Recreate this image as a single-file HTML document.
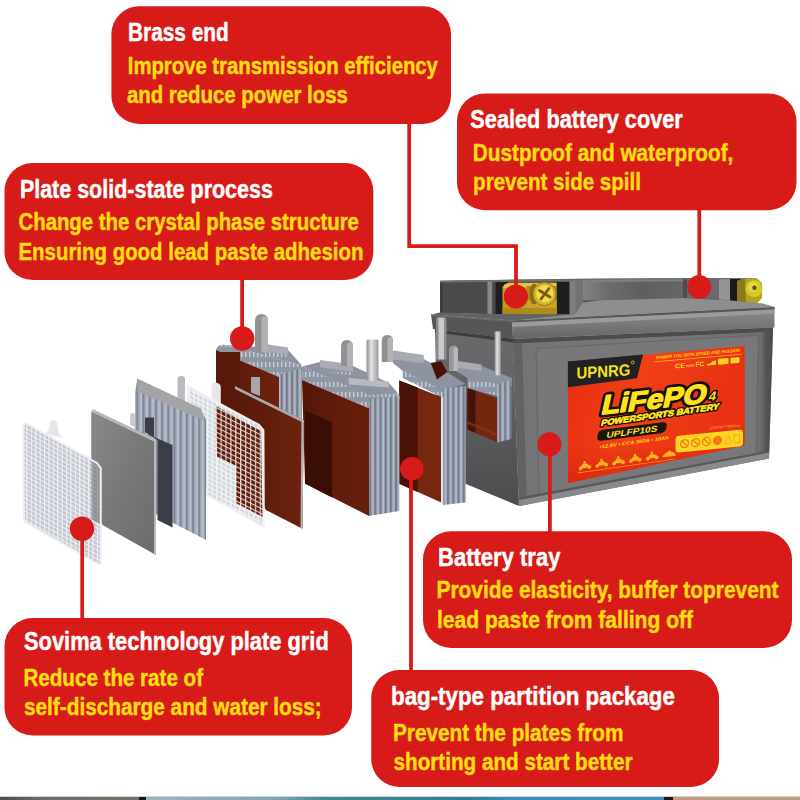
<!DOCTYPE html>
<html>
<head>
<meta charset="utf-8">
<title>Battery structure</title>
<style>
html,body{margin:0;padding:0;background:#fff;}
body{width:800px;height:800px;overflow:hidden;font-family:"Liberation Sans",sans-serif;}
svg{display:block;}
.t{font-family:"Liberation Sans",sans-serif;font-weight:bold;}
.w{fill:#ffffff;stroke:#ffffff;stroke-width:0.45px;}
.y{fill:#ffdd12;stroke:#ffdd12;stroke-width:0.45px;}
</style>
</head>
<body>
<svg width="800" height="800" viewBox="0 0 800 800">
<defs>
</defs>
<rect x="0" y="0" width="800" height="800" fill="#ffffff"/>
<!--BOTTOMSTRIP-->
<g id="strip">
<defs><linearGradient id="gStrip" x1="0" y1="0" x2="1" y2="0">
<stop offset="0" stop-color="#9fb2bd"/><stop offset="0.25" stop-color="#7fa6b4"/><stop offset="0.35" stop-color="#3b8a98"/><stop offset="0.62" stop-color="#2e7f96"/><stop offset="0.7" stop-color="#3a8cc4"/><stop offset="1" stop-color="#3f8fc6"/>
</linearGradient>
<linearGradient id="gStripL" x1="0" y1="0" x2="1" y2="0"><stop offset="0" stop-color="#4e4c48"/><stop offset="0.3" stop-color="#6f6a63"/><stop offset="1" stop-color="#77716a"/></linearGradient>
</defs>
<rect x="0" y="796.4" width="800" height="0.6" fill="#b9b6b2"/>
<rect x="0" y="797" width="140" height="3" fill="url(#gStripL)"/>
<rect x="139" y="797" width="8" height="3" fill="#15181c"/>
<rect x="146" y="797" width="520" height="3" fill="url(#gStrip)"/>
<rect x="664" y="797" width="10" height="3" fill="#1c1a1a"/>
<rect x="673" y="797" width="127" height="3" fill="#c39a7c"/>
</g>
<!--BATTERY-->
<g id="battery">
<defs>
<linearGradient id="gFront" x1="0" y1="0" x2="1" y2="0">
<stop offset="0" stop-color="#626264"/><stop offset="0.04" stop-color="#747476"/><stop offset="0.5" stop-color="#79797b"/><stop offset="1" stop-color="#6e6e70"/>
</linearGradient>
<linearGradient id="gLidF" x1="0" y1="0" x2="0" y2="1">
<stop offset="0" stop-color="#8c8c8e"/><stop offset="0.5" stop-color="#7a7a7c"/><stop offset="1" stop-color="#666668"/>
</linearGradient>
<linearGradient id="gLabel" x1="0" y1="0" x2="1" y2="0.3">
<stop offset="0" stop-color="#e82a10"/><stop offset="0.45" stop-color="#f04016"/><stop offset="1" stop-color="#e83012"/>
</linearGradient>
<linearGradient id="gBrass" x1="0" y1="0" x2="0" y2="1">
<stop offset="0" stop-color="#d2b44a"/><stop offset="0.2" stop-color="#b7982c"/><stop offset="1" stop-color="#a98a22"/>
</linearGradient>
<linearGradient id="gPanel" x1="0" y1="0" x2="0" y2="1">
<stop offset="0" stop-color="#9a9a9c"/><stop offset="1" stop-color="#828284"/>
</linearGradient>
</defs>
<!-- upper cover -->
<polygon points="440,281 520,279.6 600,278.6 730,278 757,278.6 757,304 600,304 575,315 440,313" fill="#525254"/>
<polygon points="440,281 488,280.2 488,314 440,313" fill="#4a4a4c"/>
<polygon points="440,281 443,281 443,313 440,313" fill="#3c3c3e"/>
<polygon points="440,280.4 740,278 740,279.6 440,282.4" fill="#707072"/>
<!-- left pocket -->
<rect x="488" y="282" width="87.500" height="33" fill="#1e1e20"/>
<rect x="487.500" y="281.500" width="5" height="33.500" fill="#88888a"/>
<rect x="492.500" y="282" width="3" height="33" fill="#4a4a4c"/>
<rect x="569.500" y="281" width="6.500" height="34" fill="#7e7e80"/>
<!-- brass block -->
<polygon points="504.500,284.500 509,282.750 556.500,282.750 556.500,314.800 502.500,314.800 502.500,287" fill="#c29c22"/>
<polygon points="504.500,284.500 509,282.750 556.500,282.750 556.500,286 503,288" fill="#e2c444"/>
<rect x="527" y="286" width="29.500" height="28.800" fill="#b08a1a"/>
<rect x="527" y="300" width="29.500" height="14.800" fill="#c8a428"/>
<rect x="502.500" y="308" width="54" height="6.800" fill="#a88418" opacity="0.8"/>
<ellipse cx="534" cy="294" rx="4.500" ry="10.500" fill="#8e6e12"/>
<circle cx="544.500" cy="294" r="11.600" fill="#d4b232" stroke="#94741a" stroke-width="1"/>
<circle cx="544.800" cy="293.600" r="8.600" fill="#f2dc4c"/>
<path d="M539.500,290.500 L550,297 M549,288.500 L541,299" stroke="#7a5c10" stroke-width="2.800" fill="none" stroke-linecap="round"/>
<!-- right part of cover -->
<polygon points="575.5,280 583,280 583,303 575.5,314.5" fill="#727274"/>
<linearGradient id="gCP" x1="0" y1="0" x2="1" y2="0"><stop offset="0" stop-color="#828284"/><stop offset="0.25" stop-color="#6c6c6e"/><stop offset="0.6" stop-color="#5f5f61"/><stop offset="1" stop-color="#666668"/></linearGradient>
<polygon points="583,280.8 683,279.6 683,298 583,300.5" fill="url(#gCP)"/>
<polygon points="583,280.3 683,279.2 683,281.2 583,282.3" fill="#808082"/>
<polygon points="683,279.6 722,279.2 722,299.5 683,298" fill="#6a6a6c"/>
<polygon points="683,279.6 687,279.6 687,298.2 683,298" fill="#4e4e50"/>
<polygon points="719,279.2 731,279 731,300.5 719,299.5" fill="#949496"/>
<rect x="730" y="279" width="10" height="24.800" fill="#1a1a1a"/>
<polygon points="737,281 745,278.500 757,278.500 762,283 762,298 757,303.600 737,303.600" fill="#b2a41c"/>
<polygon points="737,281 745,278.500 746,303.600 737,303.600" fill="#8a7c14"/>
<circle cx="754" cy="288.500" r="8.600" fill="#d4c82e"/>
<circle cx="753" cy="287" r="5" fill="#e2d840"/>
<circle cx="754.500" cy="287.800" r="2.200" fill="#5a5008"/>
<!-- lid top band -->
<polygon points="575,314.2 583,302.5 600,300.3 683,298 731,300.5 763,303.5 774.5,307 512.5,320.5 505,316.500" fill="#8e8e90"/>
<polygon points="431,314.5 440,312.600 488,314 575,314.2 512.5,320.5" fill="#636365"/>
<!-- lid side -->
<polygon points="431,314.5 512.5,320.5 513,339 433,329" fill="#565658"/>
<polygon points="431,314.5 512.5,320.5 512.5,322 431,316" fill="#6a6a6c"/>
<!-- lid front -->
<polygon points="512.5,320.5 774.5,307 774.5,327.5 513,339" fill="url(#gLidF)"/>
<polygon points="512.5,320.5 774.5,307 774.5,309.4 512.5,322.600" fill="#58585a"/>
<polygon points="512.5,322.600 774.5,309.4 774.5,313.400 512.5,327" fill="#9b9b9d"/>
<!-- body side -->
<linearGradient id="gSide" x1="0" y1="0" x2="0" y2="1"><stop offset="0" stop-color="#6a6a6c"/><stop offset="0.3" stop-color="#646466"/><stop offset="0.62" stop-color="#58585a"/><stop offset="1" stop-color="#4c4c4e"/></linearGradient>
<polygon points="435,329.200 513,339 519,506 466,484 438,470" fill="url(#gSide)"/>
<polygon points="435,329.200 513,339 513,342.500 435,332.200" fill="#3e3e40"/>
<!-- body front -->
<polygon points="513,339 773,327.5 769,458.5 519,506" fill="url(#gFront)"/>
<polygon points="513,339 773,327.5 773,331.5 513,343.4" fill="#4c4c4e"/>
<polygon points="513,343 522,342.6 527,504.5 519,506" fill="#626264"/>
<!-- inset panel border -->
<polygon points="536,348.5 759,335 756.500,455.500 539,500" fill="none" stroke="#68686a" stroke-width="1.2"/>
<polygon points="537.5,350 757.5,336.500 755,454.300 540.3,498.3" fill="#78787a"/>
<linearGradient id="gREdge" x1="0" y1="0" x2="1" y2="0"><stop offset="0" stop-color="#6e6e70" stop-opacity="0"/><stop offset="0.5" stop-color="#545456"/><stop offset="1" stop-color="#4a4a4c"/></linearGradient>
<polygon points="761,331.500 773,327.500 769,458.500 758,460.600" fill="url(#gREdge)"/>
<!-- base band -->
<polygon points="519,500 769,452.5 769,458.5 519,506" fill="#8a8a8c"/>
<polygon points="519,497.5 769,450.5 769,452.5 519,500" fill="#58585a"/>
<!-- left highlight cylinder -->
<rect x="436" y="317.500" width="3" height="42" fill="#8a8a8c"/>
<rect x="438.500" y="317.500" width="5.500" height="42" fill="#cacacc"/>
<rect x="444" y="317.500" width="2.500" height="42" fill="#8c8c8e"/>
<!-- label -->
<polygon points="567.9,361.6 744.7,346 744.7,445.5 567.9,483.3" fill="url(#gLabel)"/>
<linearGradient id="gLabDark" x1="0" y1="0" x2="0" y2="1"><stop offset="0" stop-color="#c81c08" stop-opacity="0"/><stop offset="0.7" stop-color="#c81c08" stop-opacity="0"/><stop offset="1" stop-color="#c81c08" stop-opacity="0.55"/></linearGradient>
<polygon points="567.9,361.6 744.7,346 744.7,445.5 567.9,483.3" fill="url(#gLabDark)"/>
<polygon points="567.9,361.6 643,354.5 637,378.3 567.9,387.3" fill="#222224"/>
<!--LABELDETAIL-->
<g id="labeldetail" font-family="Liberation Sans, sans-serif" font-weight="bold">
<!-- UPNRG -->
<g transform="matrix(1,-0.066,0,1,576.6,378.8)">
<text x="0" y="0" font-size="16.2" fill="#f6e21e" textLength="53.8" lengthAdjust="spacingAndGlyphs">UPNRG</text>
<circle cx="56.2" cy="-12.6" r="1.5" fill="none" stroke="#f6e21e" stroke-width="0.7"/>
</g>
<!-- top right small text -->
<g transform="matrix(1,-0.088,0,1,656,359.2)" fill="#ffd21a">
<text x="0" y="0" font-size="4.6" font-style="italic" textLength="84" lengthAdjust="spacingAndGlyphs">POWER YOU WITH SPEED AND PASSION</text>
<rect x="-2" y="2.2" width="88" height="0.7" fill="#ffcf2a" opacity="0.85"/>
<text x="19" y="11" font-size="6.5" textLength="10" lengthAdjust="spacingAndGlyphs">CE</text>
<text x="30" y="10.6" font-size="3.6" textLength="8" lengthAdjust="spacingAndGlyphs">RoHS</text>
<text x="39.5" y="11" font-size="7" textLength="8.5" lengthAdjust="spacingAndGlyphs">FC</text>
<path d="M50,10.8 l3,-2.2 l0.8,1 l3,-3 l0.8,0.8 l2.4,-1.2 v4.6z" />
<rect x="62" y="5.2" width="10.5" height="5.8" rx="1"/>
<rect x="74.5" y="5.2" width="9" height="5.8" rx="1"/>
</g>
<!-- LiFePO4 -->
<g transform="matrix(1,-0.111,-0.22,1,600.2,414.4)">
<text x="0" y="0" font-size="27.5" fill="#ffe21c" stroke="#141008" stroke-width="6.6" stroke-linejoin="round" paint-order="stroke" textLength="105" lengthAdjust="spacingAndGlyphs">LiFePO</text>
<text x="0" y="0" font-size="27.5" fill="#ffe21c" stroke="#ffe21c" stroke-width="1.3" stroke-linejoin="round" textLength="105" lengthAdjust="spacingAndGlyphs">LiFePO</text>
<text x="107.5" y="-1.5" font-size="13" fill="#ffe21c" stroke="#141008" stroke-width="3.4" stroke-linejoin="round" paint-order="stroke">4</text>
</g>
<!-- POWERSPORTS BATTERY -->
<g transform="matrix(1,-0.143,-0.25,1,600.5,426)">
<text x="0" y="0" font-size="8.6" fill="#ffe21c" stroke="#141008" stroke-width="3.4" stroke-linejoin="round" paint-order="stroke" textLength="118" lengthAdjust="spacingAndGlyphs">POWERSPORTS BATTERY</text>
<text x="0" y="0" font-size="8.6" fill="#ffe21c" stroke="#ffe21c" stroke-width="0.5" textLength="118" lengthAdjust="spacingAndGlyphs">POWERSPORTS BATTERY</text>
</g>
<!-- UPLFP10S pill -->
<g transform="matrix(1,-0.125,-0.2,1,596.5,441)">
<rect x="0" y="-10.6" width="69" height="10.8" rx="4.5" fill="#1a1610"/>
<text x="9" y="-2" font-size="8.6" fill="#ffe21c" textLength="51" lengthAdjust="spacingAndGlyphs">UPLFP10S</text>
</g>
<!-- spec line -->
<g transform="matrix(1,-0.135,-0.2,1,599.5,448.6)" fill="#ffd61c">
<text x="0" y="0" font-size="5" textLength="69" lengthAdjust="spacingAndGlyphs">▪12.8V ▪ CCA 550A ▪ 10Ah</text>
</g>
<!-- yellow panel -->
<g transform="matrix(1,-0.1,0,1,675.5,436.2)">
<rect x="0" y="0" width="67.5" height="16.6" rx="3.5" fill="#ffd522"/>
<g fill="none" stroke="#f07a14" stroke-width="1.2">
<circle cx="9" cy="8.4" r="4"/><circle cx="20" cy="8.4" r="4"/><circle cx="31" cy="8.4" r="4"/><circle cx="42" cy="8.4" r="4" fill="#f07a14"/>
<path d="M6.4,5.6 l5.4,5.4 M17.4,5.6 l5.4,5.4 M28.4,5.6 l5.4,5.4"/>
</g>
<path d="M49,12.5 l3.6,-7.4 l3.6,7.4z" fill="none" stroke="#f4b21c" stroke-width="1.1"/>
<rect x="58.5" y="5" width="5.6" height="7.6" fill="none" stroke="#f4b21c" stroke-width="1.1"/>
<text x="34" y="-3.2" font-size="3.6" fill="#ffb43a" textLength="31" lengthAdjust="spacingAndGlyphs" font-weight="normal">150*87*95mm</text>
</g>
<!-- vehicle icons row -->
<g transform="matrix(1,-0.143,0,1,578,470.5)" fill="#ffb21c">
<g transform="translate(0,0)">
<circle cx="2.6" cy="-1.8" r="1.9"/><circle cx="11.4" cy="-1.8" r="1.9"/>
<path d="M2,-2.6 l3,-3.4 h3.6 l3.200,3 l-1.400,1.400 h-7z"/>
<circle cx="6.600" cy="-7.200" r="1.300"/>
</g>
<g transform="translate(16.8,0)">
<circle cx="2.6" cy="-1.8" r="1.9"/><circle cx="11.4" cy="-1.8" r="1.9"/>
<path d="M2,-2.6 l3,-3.4 h3.6 l3.200,3 l-1.400,1.400 h-7z"/>
<circle cx="6.600" cy="-7.200" r="1.300"/>
</g>
<g transform="translate(33.6,0)">
<circle cx="2.6" cy="-1.8" r="1.9"/><circle cx="11.4" cy="-1.8" r="1.9"/>
<path d="M2,-2.6 l3,-3.4 h3.6 l3.200,3 l-1.400,1.400 h-7z"/>
<circle cx="6.600" cy="-7.200" r="1.300"/>
</g>
<g transform="translate(50.4,0)">
<circle cx="2.6" cy="-1.8" r="1.9"/><circle cx="11.4" cy="-1.8" r="1.9"/>
<path d="M2,-2.6 l3,-3.4 h3.6 l3.200,3 l-1.400,1.400 h-7z"/>
<circle cx="6.600" cy="-7.200" r="1.300"/>
</g>
<g transform="translate(67.2,0)">
<circle cx="2.6" cy="-1.8" r="1.9"/><circle cx="11.4" cy="-1.8" r="1.9"/>
<path d="M2,-2.6 l3,-3.4 h3.6 l3.200,3 l-1.400,1.400 h-7z"/>
<circle cx="6.600" cy="-7.200" r="1.300"/>
</g>
<path d="M84,-1 q2,-4 5.500,-4.400 l2,-2 l1.400,2 q3.600,0.600 5.400,4.400z"/>
<rect x="0" y="2" width="97" height="0.700" fill="#ffb21c" opacity="0.9"/>
</g>
</g>

<!--/LABELDETAIL-->
</g>

<!--/BATTERY-->
<!--PLATES-->
<g id="plates">
<defs>
<pattern id="rib" width="5.2" height="10" patternUnits="userSpaceOnUse">
<rect width="5.2" height="10" fill="#98a0b0"/>
<rect x="0" width="1.6" height="10" fill="#6f7788"/>
<rect x="3" width="1.4" height="10" fill="#b4bcc9"/>
</pattern>
<pattern id="rib2" width="6.2" height="10" patternUnits="userSpaceOnUse">
<rect width="6.2" height="10" fill="#a3abba"/>
<rect x="0" width="1.8" height="10" fill="#7d8596"/>
<rect x="3.6" width="1.4" height="10" fill="#bcc3cf"/>
</pattern>
<pattern id="tick" width="4" height="10" patternUnits="userSpaceOnUse">
<rect width="4" height="10" fill="#8f96a4"/>
<rect x="1" y="2" width="1.4" height="5" fill="#c9ced8"/>
</pattern>
<pattern id="grid" width="4.6" height="4.6" patternUnits="userSpaceOnUse" patternTransform="matrix(1,0.5,0,1,0,0)">
<rect width="4.6" height="4.6" fill="#f3f4f6"/>
<rect x="1.3" y="1.3" width="3.3" height="3.3" fill="#d3d7df"/>
</pattern>
<pattern id="grid1" width="4.4" height="4.4" patternUnits="userSpaceOnUse" patternTransform="matrix(1,0.54,0,1,0,0)">
<rect width="4.4" height="4.4" fill="#f0f1f4"/>
<rect x="1.100" y="1.100" width="3.300" height="3.300" fill="#c3c7d0"/>
</pattern>
<pattern id="gridb" width="4.9" height="4.9" patternUnits="userSpaceOnUse" patternTransform="matrix(1,0.5,0,1,0,0)">
<rect width="4.9" height="4.9" fill="#e2d6d0"/>
<rect x="1.2" y="1.2" width="3.7" height="3.7" fill="#5e1b0a"/>
</pattern>
<linearGradient id="gBrown" x1="0" y1="0" x2="1" y2="0">
<stop offset="0" stop-color="#551709"/><stop offset="0.5" stop-color="#611c0a"/><stop offset="1" stop-color="#67200c"/>
</linearGradient>
<linearGradient id="gBrown2" x1="0" y1="0" x2="1" y2="0">
<stop offset="0" stop-color="#57180a"/><stop offset="1" stop-color="#6c230e"/>
</linearGradient>
<linearGradient id="gGrey2" x1="0" y1="0" x2="1" y2="1">
<stop offset="0" stop-color="#8a8a8a"/><stop offset="0.5" stop-color="#787878"/><stop offset="1" stop-color="#6c6c6c"/>
</linearGradient>
<linearGradient id="gPost" x1="0" y1="0" x2="1" y2="0">
<stop offset="0" stop-color="#8c8c8e"/><stop offset="0.4" stop-color="#e4e4e6"/><stop offset="1" stop-color="#9a9a9c"/>
</linearGradient>
</defs>

<!-- ===== cell group 4 (inside battery) ===== -->
<g id="cg4">
<polygon points="458,363 481.500,366 512,378 512,386 500.750,385 467.500,378 456,371" fill="#8d93a1"/>
<rect x="494.600" y="331.400" width="6.200" height="44" fill="url(#gPost)"/>
<path d="M449,371 v-20.500 q0,-5 4.500,-5 q4.500,0 4.500,5 v20.500z" fill="#98989a"/>
<path d="M453.500,371 v-20.500 q0,-3.500 2.250,-3.500 q2.250,0 2.250,3.500 v20.500z" fill="#b8b8ba"/>
<polygon points="458,361 481.500,364.500 481.500,371 458,368" fill="#a9abb2"/>
<polygon points="467.500,377.750 500.750,384.750 500.750,397 467.500,388.250" fill="url(#tick)"/>
<polygon points="467.500,388.250 497.250,397.900 497.250,442.500 467.500,429.400" fill="#74260f"/>
<polygon points="467.500,388.250 475.500,390.800 475.500,433 467.500,429.400" fill="#481206"/>
<polygon points="467.500,421 497.250,433.500 497.250,436.500 467.500,424" fill="#8a3418" opacity="0.7"/>
<polygon points="497.250,384 511.250,380 511.250,439 497.250,442.500" fill="url(#rib)"/>
</g>

<!-- ===== cell group 3 ===== -->
<g id="cg3">
<polygon points="393,356 423.750,359 447,372 465.750,384 441.250,390 402.750,371 393,363" fill="#8d93a1"/>
<path d="M381.750,362 v-21 q0,-6 5.600,-6 q5.600,0 5.600,6 v21z" fill="#909092"/>
<path d="M387.500,362 v-21 q0,-4 2.750,-4 q2.750,0 2.750,4 v21z" fill="#b4b4b6"/>
<polygon points="393,350.600 423.750,355 423.750,363 393,359.500" fill="#a9abb2"/>
<polygon points="430.750,363 441,361 447.400,372 437,379.500" fill="#4a1206"/>
<polygon points="402.750,370.750 441.250,390 465.750,386.500 465.750,392 441.250,397 402.750,378" fill="url(#tick)"/>
<polygon points="399.250,380.400 441.250,397 441.250,502.500 399.250,483.750" fill="#75270f"/>
<polygon points="399.250,380.400 417.600,387.600 417.600,492 399.250,483.750" fill="#481206"/>
<polygon points="443,388 465.750,386 465.750,502.500 443,505" fill="url(#rib)"/>
<rect x="441" y="397" width="2.200" height="107" fill="#e2e4ea"/>
</g>

<!-- ===== cell group 2 ===== -->
<g id="cg2">
<polygon points="302,366.500 320,362 353,366 389,383 398,393.500 369.500,396" fill="#8d93a1"/>
<polygon points="320,360 353,364.500 353,372 320,367.500" fill="#a9abb2"/>
<polygon points="322,367.700 353,372 353,375.500 322,371.200" fill="url(#tick)"/>
<path d="M341,366 v-19 q0,-7 6,-7 q6,0 6,7 v19z" fill="#929294"/>
<path d="M347,366 v-19 q0,-5 3,-5 q3,0 3,5 v19z" fill="#b2b2b4"/>
<polygon points="348.500,378 389,381.500 389,387.500 348.500,384.500" fill="#b8bac0"/>
<rect x="366.500" y="339.500" width="12" height="41.500" rx="1.500" fill="url(#gPost)"/>
<polygon points="302,366.500 369.500,395 399.400,393.500 399.400,399 369.500,408.500 302,380" fill="url(#tick)"/>
<polygon points="302,380 369.500,408.500 369,516 305,483.500" fill="url(#gBrown)"/>
<polygon points="305,410.500 332,422 332,497.500 305,483.500" fill="#3a0d05"/>
<polygon points="369.500,399 399.400,396.500 399.400,511 369,516" fill="url(#rib)"/>
</g>

<!-- ===== cell group 1 ===== -->
<g id="cg1">
<polygon points="226,345 262,347 288,350 302,365.500" fill="#8d93a1"/>
<polygon points="262,343.500 288,347.500 288,355 262,351" fill="#a9abb2"/>
<polygon points="264,351.300 288,355 288,359 264,355.300" fill="url(#tick)"/>
<path d="M255,351 v-30 q0,-7 6.500,-7 q6.500,0 6.500,7 v32z" fill="#929294"/>
<path d="M261.500,352 v-31 q0,-5 3.250,-5 q3.250,0 3.250,5 v32z" fill="#b2b2b4"/>
<path d="M216,352 q0,-9 10,-7 L302,365.500 V374 L279,377 216,350z" fill="url(#tick)"/>
<polygon points="216,350 279,377 279,420 216,420" fill="url(#gBrown2)"/>
<polygon points="279,374 302,369 302,420 279,420" fill="url(#rib)"/>
</g>

<!-- ===== plate 5 (brown) ===== -->
<g id="p5">
<polygon points="216,352 240,352 240,470 216,440" fill="#591909"/>
<path d="M251,392.500 v-15.500 h9 v19z" fill="#a7a7a9"/>
<polygon points="235,386 303.750,420 302.500,528.750 266,510 235,470" fill="url(#gBrown2)"/>
<polygon points="235,386 303.750,420 303.750,423 235,389" fill="#aaaaac"/>
<polygon points="301.500,420 303.750,420 302.500,528.750 300.500,527.700" fill="#b4b4b6"/>
</g>

<!-- ===== plate 4 (grid + brown) ===== -->
<g id="p4">
<path d="M211.800,398.500 v-14 q0,-2.500 2.500,-2 l4,1.200 q2,0.800 2,3 v17z" fill="#e6e8ec" stroke="#f4f5f7" stroke-width="0.800"/>
<polygon points="187.400,386 259,424.800 263.500,430 264,527 206.500,495 187.400,470" fill="url(#grid)"/>
<polygon points="216,406 261,431 262.500,517 236,503 236,466 217,457" fill="url(#gridb)"/>
<polygon points="187.400,386 259,424.800 263.500,430 264,527 206.500,495" fill="none" stroke="#f0f1f4" stroke-width="1.800"/>
</g>

<!-- ===== plate 3 (striped) ===== -->
<g id="p3">
<path d="M177.500,399 v-20 q0,-3 3.750,-3 q3.750,0 3.750,3 v23z" fill="#b9bbc0"/>
<polygon points="137.500,378.750 201,408.750 206,420 206,540 152,512 135,490 135,392" fill="url(#rib2)"/>
<polygon points="137.500,378.750 201,408.750 205,421 137.500,391.500" fill="#a4a4a6"/>
<polygon points="145,417.500 154,417.500 154,437 172.500,445 172.500,527.500 157.500,520 157.500,440 145,432" fill="#3b3e46"/>
</g>

<!-- ===== plate 2 (grey) ===== -->
<g id="p2">
<path d="M130,425 v-10 q0,-2 2.500,-2 q2.500,0 2.500,2 v12z" fill="#c9cacd"/>
<polygon points="91.250,412 93,409.500 156,439.500 156,555 102.500,525 91.250,500" fill="url(#gGrey2)"/>
<polygon points="91.250,412 93,409.500 156,439.500 156,555 154,554 154,441.500 93,412.500" fill="#b9b9bb"/>
</g>

<!-- ===== plate 1 (white grid) ===== -->
<g id="p1">
<path d="M45,433.500 q3.500,-1.500 4,-5 l0.600,-5 q0.400,-3 3,-3 h1.800 q2.600,0 3,3 l0.800,7 q0.500,4 4.500,7.500z" fill="#e4e6eb" stroke="#f1f2f5" stroke-width="0.800"/>
<polygon points="23.400,425.500 25.500,423.200 97,463 100.750,468 100.750,563.700 98.500,564 26,522.500 23.800,519" fill="url(#grid1)"/>
<polygon points="91.500,461 97,464 100.750,468 100.750,524.300 91.500,519.200" fill="#606266" opacity="0.55"/>
<polygon points="23.400,425.500 25.500,423.200 97,463 100.750,468 100.750,563.700 98.500,564 26,522.500 23.800,519" fill="none" stroke="#eceef2" stroke-width="2"/>
</g>
</g>

<!--/PLATES-->
<!--BOXES-->
<g id="boxes" fill="#d71b19">
<rect x="111.4" y="6.2" width="339.6" height="117.8" rx="28" ry="28"/>
<rect x="457" y="93.4" width="339.5" height="116.8" rx="28" ry="28"/>
<rect x="4.5" y="163" width="368.75" height="117" rx="28" ry="28"/>
<rect x="4.5" y="618" width="347.5" height="117.5" rx="28" ry="28"/>
<rect x="423" y="531.25" width="369" height="116.75" rx="28" ry="28"/>
<rect x="371.25" y="670" width="347.75" height="117" rx="28" ry="28"/>
</g>
<g id="conn" fill="none" stroke="#d71b19" stroke-width="3.75">
<path d="M409.2,123 V246.1 H516 V296"/>
<path d="M699.3,209 V287"/>
<path d="M242.1,279 V338"/>
<path d="M82.2,619 V528"/>
<path d="M411,671 V468"/>
<path d="M549.9,532 V444"/>
</g>
<g id="dots" fill="#d71b19">
<circle cx="515.9" cy="296.5" r="12.1"/>
<circle cx="699.25" cy="287" r="12"/>
<circle cx="242.2" cy="338.5" r="12.2"/>
<circle cx="82" cy="528.75" r="12.2"/>
<circle cx="411.9" cy="468.75" r="11.8"/>
<circle cx="549.5" cy="444.3" r="12"/>
</g>
<g id="text" class="t">
<text class="w" x="128.00" y="41.00" font-size="25.5" textLength="100.80" lengthAdjust="spacingAndGlyphs">Brass end</text>
<text class="y" x="127.80" y="73.90" font-size="23.6" textLength="310.10" lengthAdjust="spacingAndGlyphs">Improve transmission efficiency</text>
<text class="y" x="126.90" y="102.60" font-size="23.6" textLength="221.00" lengthAdjust="spacingAndGlyphs">and reduce power loss</text>

<text class="w" x="470.37" y="127.50" font-size="25.5" textLength="212.45" lengthAdjust="spacingAndGlyphs">Sealed battery cover</text>
<text class="y" x="472.80" y="160.60" font-size="23.6" textLength="260.60" lengthAdjust="spacingAndGlyphs">Dustproof and waterproof,</text>
<text class="y" x="473.12" y="190.00" font-size="23.6" textLength="167.78" lengthAdjust="spacingAndGlyphs">prevent side spill</text>

<text class="w" x="19.90" y="197.50" font-size="25.5" textLength="253.00" lengthAdjust="spacingAndGlyphs">Plate solid-state process</text>
<text class="y" x="18.50" y="229.80" font-size="23.6" textLength="340.40" lengthAdjust="spacingAndGlyphs">Change the crystal phase structure</text>
<text class="y" x="18.50" y="260.00" font-size="23.6" textLength="344.90" lengthAdjust="spacingAndGlyphs">Ensuring good lead paste adhesion</text>

<text class="w" x="24.00" y="649.50" font-size="25.5" textLength="304.80" lengthAdjust="spacingAndGlyphs">Sovima technology plate grid</text>
<text class="y" x="23.50" y="685.50" font-size="23.6" textLength="179.50" lengthAdjust="spacingAndGlyphs">Reduce the rate of</text>
<text class="y" x="24.00" y="715.00" font-size="23.6" textLength="297.80" lengthAdjust="spacingAndGlyphs">self-discharge and water loss;</text>

<text class="w" x="438.00" y="565.50" font-size="25.5" textLength="122.40" lengthAdjust="spacingAndGlyphs">Battery tray</text>
<text class="y" x="436.50" y="598.00" font-size="23.6" textLength="342.00" lengthAdjust="spacingAndGlyphs">Provide elasticity, buffer toprevent</text>
<text class="y" x="437.00" y="627.50" font-size="23.6" textLength="256.00" lengthAdjust="spacingAndGlyphs">lead paste from falling off</text>

<text class="w" x="391.00" y="704.50" font-size="25.5" textLength="283.89" lengthAdjust="spacingAndGlyphs">bag-type partition package</text>
<text class="y" x="393.00" y="740.50" font-size="23.6" textLength="230.40" lengthAdjust="spacingAndGlyphs">Prevent the plates from</text>
<text class="y" x="393.50" y="770.00" font-size="23.6" textLength="239.00" lengthAdjust="spacingAndGlyphs">shorting and start better</text>
</g>
</svg>
</body>
</html>
